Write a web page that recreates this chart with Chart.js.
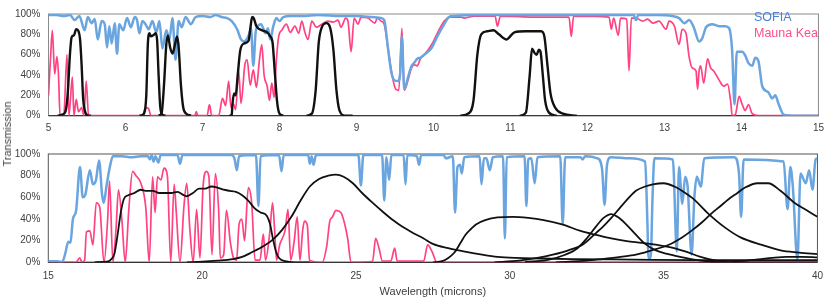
<!DOCTYPE html>
<html>
<head>
<meta charset="utf-8">
<script src="https://cdn.jsdelivr.net/npm/chart.js@4.4.1/dist/chart.umd.min.js"></script>
<style>
  body { margin: 0; background: #fff; }
  #wrap { position: relative; width: 831px; height: 299px; font-family: "Liberation Sans", Arial, sans-serif; }
  canvas { position: absolute; left: 0; }
  #topChart { top: 0; }
  #bottomChart { top: 140px; }
  .ytitle { position: absolute; left: 7px; top: 134px; transform: translate(-50%, -50%) rotate(-90deg); font-size: 11px; color: #404040; white-space: nowrap; }
  .legend { position: absolute; left: 754px; font-size: 12.5px; line-height: 15px; white-space: nowrap; }
</style>
</head>
<body>
<div id="wrap">
  <canvas id="topChart" width="831" height="140"></canvas>
  <canvas id="bottomChart" width="831" height="159"></canvas>
  <div class="ytitle">Transmission</div>
  <div class="legend" style="top:10px;color:#4a80d8">SOFIA</div>
  <div class="legend" style="top:26px;color:#ff4d8a">Mauna Kea</div>
</div>
<script>
// wavelength (microns), transmission (%)
const sofiaTop = [[5.00,99],[5.10,99],[5.20,98],[5.28,99],[5.34,94],[5.40,98],[5.47,84],[5.51,97],[5.56,91],[5.60,95],[5.64,75],[5.69,93],[5.73,90],[5.76,67],[5.79,88],[5.82,71],[5.86,91],[5.89,61],[5.92,90],[5.97,84],[6.02,96],[6.07,87],[6.12,97],[6.15,94],[6.18,81],[6.22,93],[6.26,90],[6.30,85],[6.35,93],[6.40,82],[6.44,93],[6.48,66],[6.53,84],[6.57,75],[6.61,96],[6.65,55],[6.69,93],[6.73,87],[6.78,97],[6.85,90],[6.91,97],[7.00,98],[7.10,97],[7.17,99],[7.25,97],[7.32,96],[7.38,93],[7.45,85],[7.50,75],[7.54,73],[7.60,79],[7.63,86],[7.66,49],[7.69,82],[7.71,87],[7.76,90],[7.82,81],[7.85,86],[7.88,75],[7.92,88],[7.96,96],[8.00,93],[8.05,97],[8.15,98],[8.30,98],[8.50,99],[8.80,98],[9.00,98],[9.20,97],[9.32,96],[9.36,94],[9.41,66],[9.45,44],[9.49,35],[9.54,34],[9.57,44],[9.59,78],[9.62,26],[9.67,38],[9.71,48],[9.75,52],[9.79,56],[9.83,57],[9.88,60],[9.93,63],[9.97,66],[10.05,78],[10.14,90],[10.20,97],[10.27,98],[10.50,99],[11.00,99],[11.50,99],[12.00,99],[12.60,99],[12.63,94],[12.66,99],[12.90,99],[13.10,98],[13.19,96],[13.26,91],[13.32,94],[13.38,87],[13.45,73],[13.49,76],[13.54,87],[13.62,90],[13.71,88],[13.79,88],[13.84,86],[13.88,63],[13.91,11],[13.94,63],[14.01,63],[14.05,59],[14.09,52],[14.14,49],[14.18,57],[14.22,54],[14.27,29],[14.35,23],[14.40,17],[14.44,20],[14.48,12],[14.55,1],[14.70,0],[15.00,0]];

const maunaTop = [[5.00,20],[5.03,62],[5.05,84],[5.08,41],[5.11,58],[5.13,40],[5.15,0],[5.20,2],[5.24,60],[5.265,0],[5.31,38],[5.33,0],[5.36,16],[5.39,4],[5.43,8],[5.46,0],[5.49,34],[5.52,0],[6.22,0],[6.26,8],[6.30,7],[6.33,0],[6.90,0],[6.92,4],[6.94,0],[7.06,0],[7.09,11],[7.12,0],[7.21,0],[7.26,17],[7.30,10],[7.34,34],[7.37,8],[7.40,12],[7.43,6],[7.47,44],[7.50,12],[7.55,50],[7.58,55],[7.62,30],[7.66,45],[7.70,28],[7.74,55],[7.77,70],[7.80,40],[7.84,29],[7.87,15],[7.90,32],[7.93,18],[7.96,55],[7.99,78],[8.03,84],[8.09,90],[8.14,82],[8.20,88],[8.25,81],[8.29,93],[8.33,82],[8.37,75],[8.42,93],[8.48,87],[8.55,90],[8.63,93],[8.70,92],[8.76,94],[8.80,87],[8.86,96],[8.89,93],[8.93,63],[8.97,96],[9.02,90],[9.06,97],[9.15,96],[9.24,91],[9.27,96],[9.32,93],[9.36,90],[9.41,66],[9.46,41],[9.51,26],[9.55,25],[9.59,86],[9.62,25],[9.67,35],[9.71,46],[9.75,50],[9.79,49],[9.83,56],[9.88,60],[9.97,69],[10.05,81],[10.14,93],[10.22,97],[10.35,97],[10.40,96],[10.53,98],[10.80,98],[10.83,88],[10.87,98],[11.34,97],[11.76,97],[11.79,78],[11.82,98],[12.28,97],[12.31,85],[12.34,96],[12.40,79],[12.43,96],[12.51,95],[12.54,44],[12.57,96],[12.63,96],[12.72,93],[12.78,95],[12.85,91],[12.93,93],[13.02,85],[13.06,93],[13.13,88],[13.19,70],[13.23,85],[13.28,81],[13.32,58],[13.36,47],[13.41,44],[13.43,26],[13.45,44],[13.47,49],[13.51,32],[13.56,56],[13.60,47],[13.64,44],[13.71,35],[13.77,29],[13.82,31],[13.86,14],[13.88,0],[13.92,1],[13.97,19],[14.01,11],[14.05,5],[14.09,11],[14.14,2],[14.22,0],[15.00,0]];

const filtersTop = [
  [[5.12,0],[5.18,1],[5.22,4],[5.25,22],[5.28,62],[5.30,77],[5.33,79],[5.36,85],[5.39,83],[5.41,75],[5.43,50],[5.45,17],[5.48,3],[5.52,0],[5.55,0]],
  [[6.18,0],[6.24,2],[6.27,20],[6.29,70],[6.31,81],[6.33,78],[6.36,79],[6.39,81],[6.41,75],[6.43,40],[6.45,10],[6.48,1],[6.52,0]],
  [[6.43,0],[6.47,3],[6.50,30],[6.53,70],[6.55,79],[6.58,67],[6.61,61],[6.64,69],[6.67,78],[6.69,68],[6.72,30],[6.75,8],[6.79,2],[6.85,0]],
  [[7.35,0],[7.38,1],[7.39,12],[7.41,22],[7.43,20],[7.46,42],[7.49,64],[7.54,71],[7.60,74],[7.625,88],[7.645,97],[7.665,96],[7.70,88],[7.77,84],[7.84,82],[7.88,78],[7.91,72],[7.94,42],[7.97,13],[8.00,2],[8.05,0]],
  [[8.35,0],[8.42,2],[8.47,25],[8.51,72],[8.55,87],[8.61,91],[8.66,86],[8.70,65],[8.74,25],[8.78,5],[8.85,0],[8.95,0]],
  [[10.35,0],[10.45,2],[10.52,15],[10.57,60],[10.62,80],[10.70,83],[10.78,84],[10.85,80],[10.95,75],[11.05,82],[11.20,83],[11.40,83],[11.44,78],[11.48,50],[11.52,22],[11.58,8],[11.68,2],[11.86,0]],
  [[11.12,0],[11.20,3],[11.25,40],[11.28,66],[11.31,62],[11.34,60],[11.37,65],[11.39,63],[11.42,40],[11.45,15],[11.50,3],[11.60,0]]
];

const sofiaBottom = [[15.0,1],[15.3,1],[15.45,0],[15.55,8],[15.65,19],[15.72,18],[15.80,40],[15.90,47],[16.03,88],[16.12,60],[16.20,62],[16.35,85],[16.45,72],[16.55,76],[16.65,94],[16.75,62],[16.80,55],[16.90,72],[17.00,88],[17.10,98],[17.40,98],[17.70,97],[18.00,98],[18.24,98],[18.30,95],[18.36,99],[18.42,93],[18.48,98],[18.58,92],[18.65,99],[19.20,99],[19.28,91],[19.36,99],[20.95,99],[21.05,96],[21.13,85],[21.20,98],[21.75,99],[21.83,52],[21.90,98],[22.50,99],[22.58,84],[22.65,99],[23.45,99],[23.50,91],[23.56,98],[23.62,90],[23.70,99],[25.08,99],[25.16,71],[25.24,99],[25.85,99],[25.92,57],[25.99,97],[26.08,76],[26.15,99],[26.55,99],[26.61,72],[26.67,99],[26.98,98],[27.05,90],[27.12,99],[27.85,99],[27.92,96],[28.15,98],[28.22,46],[28.30,88],[28.38,90],[28.44,82],[28.52,97],[29.02,98],[29.08,72],[29.16,96],[29.24,96],[29.35,85],[29.45,97],[29.78,98],[29.84,22],[29.90,97],[30.48,98],[30.54,52],[30.60,95],[30.70,96],[30.81,73],[30.90,97],[31.64,98],[31.72,35],[31.80,97],[32.30,97],[32.37,95],[32.45,98],[32.85,96],[33.00,86],[33.08,53],[33.16,90],[33.28,97],[33.90,96],[34.40,93],[34.47,40],[34.51,4],[34.58,4],[34.64,60],[34.70,96],[35.30,95],[35.43,10],[35.50,88],[35.61,54],[35.70,79],[35.78,70],[35.91,7],[36.00,60],[36.08,79],[36.21,70],[36.32,96],[37.30,97],[37.45,82],[37.52,42],[37.60,95],[38.90,93],[39.03,49],[39.12,88],[39.20,70],[39.35,2],[39.45,82],[39.62,73],[39.73,85],[39.84,67],[39.94,95],[40.0,96]];

const maunaBottom = [[15.0,0],[15.9,0],[16.02,4],[16.10,0],[16.18,2],[16.24,28],[16.35,29],[16.45,16],[16.56,55],[16.67,51],[16.81,0],[16.93,40],[16.99,75],[17.10,0],[17.20,30],[17.28,67],[17.39,40],[17.50,0],[17.62,50],[17.74,84],[17.85,80],[18.01,73],[18.17,50],[18.28,0],[18.39,79],[18.47,46],[18.55,79],[18.66,76],[18.76,87],[18.87,80],[18.98,0],[19.09,72],[19.16,46],[19.28,0],[19.41,52],[19.50,73],[19.60,31],[19.71,0],[19.82,49],[19.93,4],[20.03,70],[20.14,84],[20.22,79],[20.32,7],[20.43,82],[20.54,46],[20.59,4],[20.70,7],[20.79,48],[20.92,18],[21.02,4],[21.12,2],[21.20,35],[21.29,40],[21.38,20],[21.50,69],[21.61,55],[21.72,2],[21.88,2],[21.99,26],[22.06,2],[22.20,28],[22.29,55],[22.36,28],[22.42,2],[22.52,16],[22.70,30],[22.79,49],[22.88,2],[22.99,19],[23.09,42],[23.18,2],[23.27,30],[23.33,38],[23.42,34],[23.49,2],[23.90,0],[24.05,15],[24.15,38],[24.24,42],[24.35,48],[24.51,46],[24.62,37],[24.73,22],[24.84,0],[25.54,1],[25.64,22],[25.75,13],[25.86,1],[26.13,1],[26.26,13],[26.34,1],[27.20,1],[27.33,16],[27.47,10],[27.63,0],[40.0,0]];

const filtersBottom = [
  [[16.5,0],[16.9,0.5],[17.05,3],[17.15,8],[17.25,25],[17.35,45],[17.45,58],[17.6,62],[17.8,64],[18.0,67],[18.2,66],[18.4,66],[18.6,64],[18.8,64],[19.0,64],[19.2,65],[19.4,62],[19.5,61],[19.7,64],[19.9,68],[20.1,68],[20.3,70],[20.5,69],[20.7,67],[20.9,66],[21.1,65],[21.3,62],[21.5,57],[21.7,50],[21.9,46],[22.1,43],[22.2,36],[22.3,22],[22.4,10],[22.5,4],[22.7,1],[23.0,0],[23.5,0]],
  [[19.5,0],[20.0,0.5],[20.5,1.5],[21.0,3],[21.3,5],[21.6,9],[22.0,15],[22.3,21],[22.6,30],[22.9,42],[23.2,57],[23.5,70],[23.8,77],[24.1,80],[24.35,81],[24.6,79],[24.9,73],[25.2,64],[25.5,56],[25.9,46],[26.2,39],[26.5,33],[26.8,28],[27.2,22],[27.5,17],[28.0,13],[28.5,10],[29.1,7],[29.6,5],[30.2,4],[31.0,3.5],[32.0,3],[34.0,2.5],[36.0,2],[40.0,2]],
  [[27.5,0],[27.8,1],[28.0,4],[28.2,9],[28.4,18],[28.55,25],[28.75,31],[28.9,35],[29.2,39],[29.6,41.5],[30.1,42],[30.6,41],[31.1,39],[31.7,35],[32.3,29],[32.85,25],[33.3,22],[33.8,19.5],[34.3,18],[34.8,16],[35.2,14],[35.7,10],[36.2,5],[36.7,1.5],[37.2,0],[40.0,0]],
  [[30.5,0.5],[31.2,2],[31.8,7],[32.2,13],[32.5,22],[32.8,33],[33.05,41],[33.3,44.5],[33.5,42],[33.75,36],[34.05,27],[34.4,17],[34.75,11],[35.15,7.5],[35.7,4],[36.2,1.5],[36.8,0]],
  [[29.5,0],[30.3,1.5],[30.9,4],[31.4,7],[31.9,11],[32.4,17],[32.8,27],[33.0,32],[33.3,41],[33.6,51],[33.85,59],[34.1,66],[34.4,70],[34.65,72],[35.0,73],[35.35,70],[35.65,65],[35.95,59],[36.45,45],[37.0,32],[37.5,23],[38.2,16],[38.8,11],[39.4,9],[40.0,7.5]],
  [[31.5,0],[32.5,1.5],[33.0,3],[33.6,5],[34.1,7],[34.6,11],[35.15,16],[35.6,23],[35.9,29],[36.25,37],[36.55,45],[36.85,52],[37.1,58],[37.4,64],[37.65,69],[38.05,73],[38.4,73],[38.8,66],[39.25,55],[39.65,48],[40.0,42]],
  [[36.5,0],[37.0,0],[37.5,1],[38.0,2.5],[38.5,4],[39.0,5],[39.5,5],[40.0,4.5]]
];

const yTicks = [0, 20, 40, 60, 80, 100];

Chart.defaults.font.family = '"Liberation Sans", Arial, sans-serif';
Chart.defaults.font.size = 10;
Chart.defaults.color = '#404040';

const framePlugin = {
  id: 'frame',
  beforeDatasetsDraw(chart, args, opts) {
    const { ctx, chartArea: a } = chart;
    ctx.save();
    ctx.strokeStyle = opts.color;
    ctx.lineWidth = 1;
    ctx.strokeRect(a.left, a.top, a.right - a.left, a.bottom - a.top);
    ctx.strokeStyle = '#222';
    ctx.beginPath();
    ctx.moveTo(a.left, a.bottom);
    ctx.lineTo(a.right, a.bottom);
    ctx.stroke();
    ctx.restore();
  }
};

function buildDatasets(filters, sofia, mauna, blackWidth) {
  const sets = filters.map((f) => ({
    data: f,
    borderColor: '#111',
    borderWidth: blackWidth,
  }));
  sets.push({ data: sofia, borderColor: '#6aa5e0', borderWidth: 2.5 });
  sets.push({ data: mauna, borderColor: '#ff4282', borderWidth: 1.7 });
  return sets;
}

function makeChart(id, datasets, xMin, xMax, xStep, geo) {
  return new Chart(document.getElementById(id), {
    type: 'line',
    data: { datasets: datasets },
    options: {
      responsive: false,
      animation: false,
      layout: { padding: { top: geo.top, right: geo.right, left: 0, bottom: 0 } },
      elements: {
        point: { radius: 0 },
        line: { cubicInterpolationMode: 'monotone', fill: false }
      },
      plugins: {
        legend: { display: false },
        tooltip: { enabled: false },
        frame: { color: geo.frame }
      },
      scales: {
        x: {
          type: 'linear',
          min: xMin,
          max: xMax,
          grid: { display: false, drawTicks: false },
          border: { display: false },
          ticks: { stepSize: xStep, padding: geo.tickPad, maxRotation: 0, color: '#404040' },
          title: {
            display: geo.title,
            text: 'Wavelength (microns)',
            font: { size: 11 },
            color: '#404040',
            padding: { top: 0, bottom: 0 }
          },
          afterFit: (s) => { s.height = geo.xHeight; }
        },
        y: {
          min: 0,
          max: 100,
          grid: { display: false, drawTicks: false },
          border: { display: false },
          afterBuildTicks: (s) => { s.ticks = yTicks.map((v) => ({ value: v })); },
          ticks: { padding: 8, callback: (v) => v + '%', color: '#404040' },
          afterFit: (s) => { s.width = geo.left; }
        }
      }
    },
    plugins: [framePlugin]
  });
}

makeChart('topChart', buildDatasets(filtersTop, sofiaTop, maunaTop, 2.4), 5, 15, 1,
  { top: 5.5, right: 7.5, left: 48.5, xHeight: 24.3, tickPad: 7, title: false, frame: '#8a8a8a' });

makeChart('bottomChart', buildDatasets(filtersBottom, sofiaBottom, maunaBottom, 1.8), 15, 40, 5,
  { top: 12.3, right: 8, left: 48.3, xHeight: 36.7, tickPad: 8, title: true, frame: '#555' });
</script>
</body>
</html>
